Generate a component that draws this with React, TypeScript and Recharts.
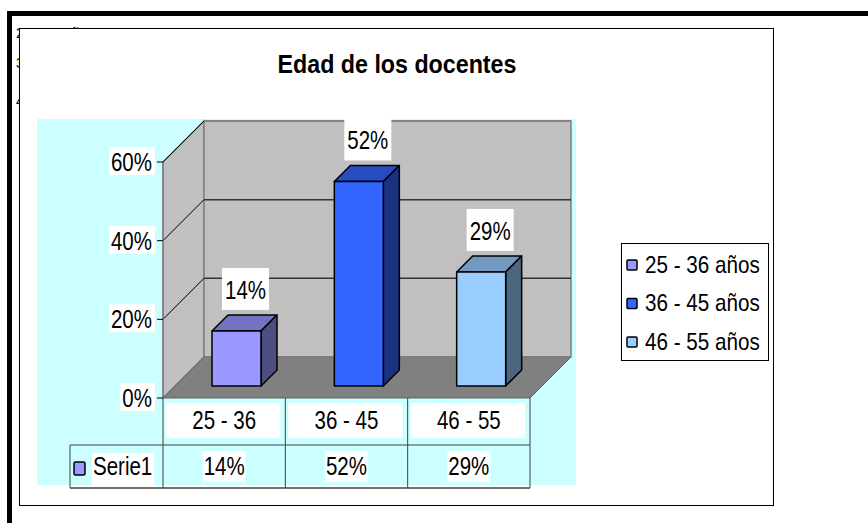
import React from 'react';
import { BarChart, Bar, XAxis, YAxis, CartesianGrid, ReferenceArea, LabelList, Legend } from 'recharts';

const title = 'Edad de los docentes';
const categories = ['25 - 36', '36 - 45', '46 - 55'];
const values = [0.14, 0.52, 0.29];
const legendLabels = ['25 - 36 años', '36 - 45 años', '46 - 55 años'];
const seriesName = 'Serie1';
const yTicks = [0, 0.2, 0.4, 0.6];
const fragmentRows = ['25 - 36 años', '36 - 45 años', '46 - 55 años'];
const fragmentValue = '14%';

const frontColors = ['#9999FF', '#3366FF', '#99CCFF'];
const topColors = ['#7373BF', '#264CBF', '#7399BF'];
const sideColors = ['#4D4D80', '#1A3380', '#4D6680'];

const data = categories.map((c, i) => ({ cat: c, value: values[i] }));

const FONT = '"Liberation Sans", Arial, Helvetica, sans-serif';
const SX = 0.82;
const NS = 25;
const DEPTH = 41;
const BAR_OFF = 12;
const BAR_DEPTH = 16;

const pct = (v: number) => `${Math.round(v * 100)}%`;

const CW: Record<string, number> = {
  '0': 0.556, '1': 0.556, '2': 0.556, '3': 0.556, '4': 0.556, '5': 0.556, '6': 0.556,
  '7': 0.556, '8': 0.556, '9': 0.556, '%': 0.889, ' ': 0.278, '-': 0.333, S: 0.667,
  e: 0.556, r: 0.333, i: 0.222,
};
const textW = (s: string) => s.split('').reduce((a, ch) => a + (CW[ch] ?? 0.556), 0) * NS * SX;

function NarrowText({ x, y, anchor = 'start', sx = SX, size = NS, weight = 'normal', children }: any) {
  return (
    <text x={x / sx} y={y} transform={`scale(${sx} 1)`} textAnchor={anchor} fontSize={size} fontWeight={weight} fontFamily={FONT} fill="#000">
      {children}
    </text>
  );
}

function YTick(props: any) {
  const { x, y, payload } = props;
  const label = pct(payload.value);
  const w = textW(label);
  return (
    <g>
      <rect x={x - w - 5} y={y - 15} width={w + 5} height={28} fill="#fff" />
      <NarrowText x={x - 3} y={y + 9} anchor="end">{label}</NarrowText>
    </g>
  );
}

function XTick(props: any) {
  const { x, y, payload, index } = props;
  const half = payload && payload.offset ? payload.offset : 61;
  const L = x - half;
  const R = x + half;
  const y0 = y;
  const r1 = y0 + 47;
  const r2 = y0 + 90;
  const val = pct(values[index]);
  const vw = textW(val);
  const lc = '#404040';
  const last = index === categories.length - 1;
  return (
    <g>
      <rect x={L + 3} y={y0 + 5} width={2 * half - 8} height={35} fill="#fff" />
      <NarrowText x={x} y={y0 + 31} anchor="middle">{payload.value}</NarrowText>
      <rect x={x - vw / 2 - 1} y={y0 + 53} width={vw + 2} height={31} fill="#fff" />
      <NarrowText x={x} y={y0 + 77} anchor="middle">{val}</NarrowText>
      <line x1={L} y1={y0} x2={L} y2={r2} stroke={lc} strokeWidth={1} />
      {last && <line x1={R} y1={y0} x2={R} y2={r2} stroke={lc} strokeWidth={1} />}
      <line x1={L} y1={r1} x2={R} y2={r1} stroke={lc} strokeWidth={1} />
      <line x1={L} y1={r2} x2={R} y2={r2} stroke={lc} strokeWidth={1.5} />
      {index === 0 && (
        <g>
          <line x1={L - 93} y1={r1} x2={L} y2={r1} stroke={lc} strokeWidth={1} />
          <line x1={L - 93} y1={r2} x2={L} y2={r2} stroke={lc} strokeWidth={1.5} />
          <line x1={L - 93} y1={r1} x2={L - 93} y2={r2} stroke={lc} strokeWidth={1} />
          <rect x={L - 89} y={y0 + 64} width={11} height={13} rx={1.5} fill={frontColors[0]} stroke="#000" strokeWidth={1.5} />
          <rect x={L - 71} y={y0 + 55} width={textW(seriesName) + 3} height={32} fill="#fff" />
          <NarrowText x={L - 70} y={y0 + 77}>{seriesName}</NarrowText>
        </g>
      )}
    </g>
  );
}

function Walls(props: any) {
  const { x, y, width: w, height: h } = props;
  const D = DEPTH;
  return (
    <g>
      <polygon points={`${x},${y} ${x + D},${y - D} ${x + D},${y + h - D} ${x},${y + h}`} fill="#C0C0C0" stroke="#808080" strokeWidth={1.5} />
      <rect x={x + D} y={y - D} width={w} height={h} fill="#C0C0C0" stroke="#808080" strokeWidth={1.5} />
      <polygon points={`${x},${y + h} ${x + D},${y + h - D} ${x + w + D},${y + h - D} ${x + w},${y + h}`} fill="#808080" stroke="#606060" strokeWidth={1} />
    </g>
  );
}

function gridLine(props: any) {
  const { x1, y1, x2, index } = props;
  const D = DEPTH;
  const v = yTicks[index];
  const edge = v === 0 || v === yTicks[yTicks.length - 1];
  return (
    <g key={`gl-${index}-${y1}`}>
      {v !== 0 && <line x1={x1} y1={y1} x2={x1 + D} y2={y1 - D} stroke="#000" strokeWidth={1} />}
      <line x1={x1 + D} y1={y1 - D} x2={x2 + D} y2={y1 - D} stroke={edge ? '#808080' : '#333'} strokeWidth={1.5} />
    </g>
  );
}

function Bar3D(props: any) {
  const { x, y, width, height, index } = props;
  if (width == null || height == null) return null;
  const d = BAR_DEPTH;
  const fx = x + BAR_OFF;
  const fy = y - BAR_OFF;
  const bottom = y + height - BAR_OFF;
  return (
    <g stroke="#000" strokeWidth={1.5} strokeLinejoin="round">
      <polygon points={`${fx},${fy} ${fx + d},${fy - d} ${fx + width + d},${fy - d} ${fx + width},${fy}`} fill={topColors[index]} />
      <polygon points={`${fx + width},${fy} ${fx + width + d},${fy - d} ${fx + width + d},${bottom - d} ${fx + width},${bottom}`} fill={sideColors[index]} />
      <rect x={fx} y={fy} width={width} height={bottom - fy} fill={frontColors[index]} />
    </g>
  );
}

function BarLabel(props: any) {
  const { x, y, width, value } = props;
  const label = pct(value);
  const w = textW(label);
  const cx = x + width / 2 + 21;
  const bottom = y - 33;
  return (
    <g>
      <rect x={cx - w / 2 - 3} y={bottom - 42} width={w + 6} height={42} fill="#fff" />
      <NarrowText x={cx} y={bottom - 11} anchor="middle">{label}</NarrowText>
    </g>
  );
}

function LegendBox() {
  return (
    <svg width={148} height={118} style={{ display: 'block' }}>
      <rect x={0.5} y={0.5} width={147} height={117} fill="#fff" stroke="#000" strokeWidth={1} />
      {legendLabels.map((l, i) => (
        <g key={l}>
          <rect x={6} y={17 + i * 38.5} width={10} height={10} rx={1} fill={frontColors[i]} stroke="#000" strokeWidth={1.5} />
          <NarrowText x={24} y={30 + i * 38.5} sx={0.86} size={24}>{l}</NarrowText>
        </g>
      ))}
    </svg>
  );
}

export default function App() {
  return (
    <div style={{ position: 'absolute', left: 0, top: 0, width: 868, height: 523, overflow: 'hidden', background: '#fff' }}>
      <svg width={868} height={523} style={{ position: 'absolute', left: 0, top: 0 }}>
        <text x={16} y={38} fontSize={14} fontFamily={FONT}>{fragmentRows[0]}</text>
        <text x={222} y={38} fontSize={14} fontFamily={FONT}>{fragmentValue}</text>
        <text x={16} y={68} fontSize={14} fontFamily={FONT}>{fragmentRows[1]}</text>
        <text x={16} y={106} fontSize={14} fontFamily={FONT}>{fragmentRows[2]}</text>
        <rect x={7} y={11} width={861} height={5} fill="#000" />
        <rect x={7} y={11} width={5} height={512} fill="#000" />
        <rect x={19.5} y={28.5} width={754} height={477} fill="#fff" stroke="#000" strokeWidth={1} />
        <rect x={37} y={119} width={539} height={366} fill="#CCFFFF" />
        <NarrowText x={397} y={73} anchor="middle" sx={0.93} size={25} weight="bold">{title}</NarrowText>
      </svg>
      <BarChart width={868} height={523} data={data} margin={{ top: 162, right: 338, bottom: 35, left: 103 }} barSize={49}>
        <ReferenceArea y1={0} y2={0.6} shape={Walls} ifOverflow="visible" zIndex={-150} />
        <CartesianGrid vertical={false} horizontal={gridLine as any} />
        <XAxis dataKey="cat" height={90} axisLine={false} tickLine={false} tickSize={0} tickMargin={0} tick={<XTick />} interval={0} />
        <YAxis width={60} domain={[0, 0.6]} ticks={yTicks} interval={0} axisLine={{ stroke: '#808080', strokeWidth: 1.5 }} tickLine={{ stroke: '#000', strokeWidth: 1 }} tickSize={6} tick={<YTick />} />
        <Legend layout="vertical" align="center" verticalAlign="middle" wrapperStyle={{ position: 'absolute', left: 621, top: 243, width: 148, height: 118 }} content={() => <LegendBox />} />
        <Bar dataKey="value" name={seriesName} isAnimationActive={false} shape={<Bar3D />}>
          <LabelList dataKey="value" content={<BarLabel />} />
        </Bar>
      </BarChart>
    </div>
  );
}
